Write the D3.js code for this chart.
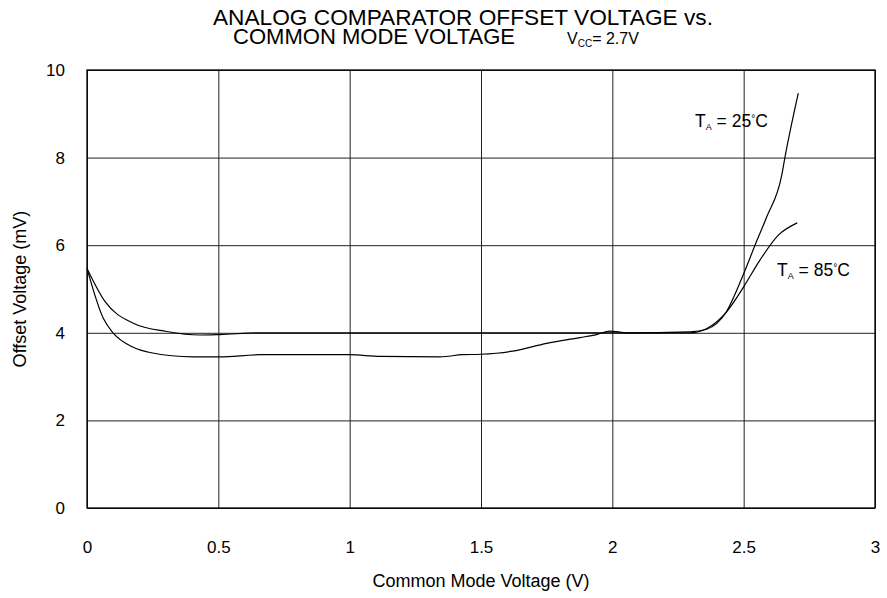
<!DOCTYPE html>
<html>
<head>
<meta charset="utf-8">
<script src="https://cdn.jsdelivr.net/npm/d3@7"></script>
<style>
body { margin:0; background:#fff; }
svg { display:block; font-family:"Liberation Sans", Arial, sans-serif; }
.grid line { stroke:#222; stroke-width:1; }
.grid path { display:none; }
.axis text { font-size:17px; fill:#000; }
</style>
</head>
<body>
<div id="graph"></div>
<script>
// values
var xTicks = [0, 0.5, 1, 1.5, 2, 2.5, 3]
var yTicks = [0, 2, 4, 6, 8, 10]

var v25 = [0, 0.062, 0.10, 0.176, 0.24, 0.405, 0.506, 0.66, 1.0, 1.115, 1.344, 1.43, 1.5, 1.62, 1.75, 1.877, 1.94, 1.99, 2.055, 2.296, 2.359, 2.43, 2.5, 2.55, 2.588, 2.645, 2.657, 2.708]
var off25 = [5.47, 4.33, 3.99, 3.67, 3.55, 3.45, 3.45, 3.5, 3.5, 3.46, 3.45, 3.5, 3.51, 3.58, 3.76, 3.89, 3.96, 4.04, 4.0, 4.02, 4.08, 4.44, 5.35, 6.1, 6.65, 7.6, 8.0, 9.47]

var v85 = [0, 0.069, 0.176, 0.303, 0.43, 0.506, 0.66, 1.0, 1.5, 2.0, 2.296, 2.36, 2.435, 2.5, 2.562, 2.632, 2.704]
var off85 = [5.47, 4.71, 4.22, 4.03, 3.95, 3.96, 4.0, 4.0, 4.0, 4.0, 4.0, 4.1, 4.48, 5.05, 5.66, 6.23, 6.51]

var width = 887, height = 598
var margin = {top:70, left:87, right:12, bottom:90}
var chartWidth = width - margin.left - margin.right
var chartHeight = height - margin.top - margin.bottom

var svg = d3.select("#graph").append("svg")
	.attr("width", width).attr("height", height)

var x = d3.scaleLinear().domain([0, 3]).range([margin.left, margin.left + chartWidth])
var y = d3.scaleLinear().domain([0, 10]).range([margin.top + chartHeight, margin.top])

// grid + tick labels
svg.append("g")
	.attr("class", "grid axis")
	.attr("transform", "translate(0," + (margin.top + chartHeight) + ")")
	.call(d3.axisBottom(x).tickValues(xTicks).tickFormat(d3.format("~g"))
		.tickSize(-chartHeight).tickPadding(33))

svg.append("g")
	.attr("class", "grid axis")
	.attr("transform", "translate(" + margin.left + ",0)")
	.call(d3.axisLeft(y).tickValues(yTicks).tickFormat(d3.format("~g"))
		.tickSize(-chartWidth).tickPadding(22))

// frame
svg.append("rect")
	.attr("x", margin.left).attr("y", margin.top)
	.attr("width", chartWidth).attr("height", chartHeight)
	.attr("fill", "none").attr("stroke", "#000").attr("stroke-width", 1.3)

// curves
var line = d3.line()
	.x(function(d) { return x(d[0]) })
	.y(function(d) { return y(d[1]) })
	.curve(d3.curveMonotoneX)

var series = [d3.zip(v25, off25), d3.zip(v85, off85)]
svg.append("g").selectAll("path")
	.data(series)
	.enter().append("path")
	.attr("d", line)
	.attr("fill", "none")
	.attr("stroke", "#000")
	.attr("stroke-width", 1.2)

// title
var title = svg.append("g").attr("font-size", 22)
title.append("text").attr("x", 213).attr("y", 25)
	.attr("textLength", 500).attr("lengthAdjust", "spacingAndGlyphs")
	.text("ANALOG COMPARATOR OFFSET VOLTAGE vs.")
title.append("text").attr("x", 233).attr("y", 44)
	.attr("textLength", 282).attr("lengthAdjust", "spacingAndGlyphs")
	.text("COMMON MODE VOLTAGE")
var vcc = svg.append("text").attr("x", 567).attr("y", 44).attr("font-size", 16)
vcc.append("tspan").text("V")
vcc.append("tspan").attr("font-size", 10).attr("dy", 3).text("CC")
vcc.append("tspan").attr("dy", -3).text("= 2.7V")

// axis titles
svg.append("text")
	.attr("x", margin.left + chartWidth / 2).attr("y", 587)
	.attr("text-anchor", "middle").attr("font-size", 18)
	.text("Common Mode Voltage (V)")
svg.append("text")
	.attr("transform", "translate(26," + (margin.top + chartHeight / 2) + ") rotate(-90)")
	.attr("text-anchor", "middle").attr("font-size", 18)
	.text("Offset Voltage (mV)")

// annotations
function label(px, py, temp) {
	var t = svg.append("text").attr("x", px).attr("y", py).attr("font-size", 17.5)
	t.append("tspan").text("T")
	t.append("tspan").attr("font-size", 9).attr("dy", 3).text("A")
	t.append("tspan").attr("dy", -3).text(" = " + temp)
	t.append("tspan").attr("font-size", 10).attr("dy", -5).text("°")
	t.append("tspan").attr("dy", 5).text("C")
}
label(695, 127, "25")
label(777, 276, "85")
</script>
</body>
</html>
